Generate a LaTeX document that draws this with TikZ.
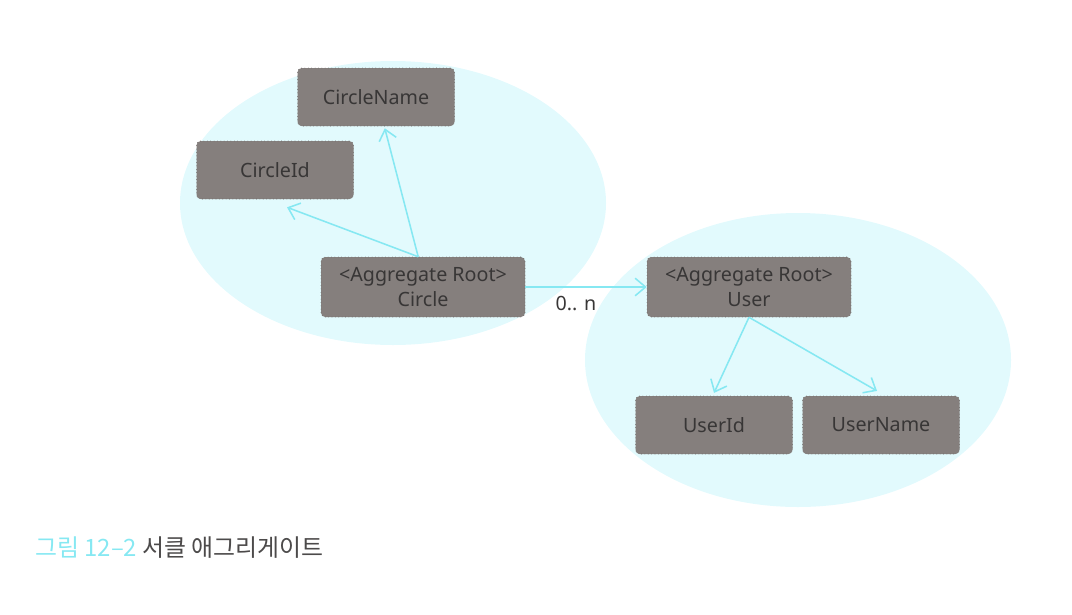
\documentclass[tikz,border=0pt]{standalone}
\usepackage{fontspec}
\setmainfont{Noto Sans}
\newfontfamily\krfont{Noto Sans CJK KR}
\usetikzlibrary{positioning,arrows.meta}
\definecolor{boxgray}{HTML}{857F7D}
\definecolor{boxtext}{HTML}{383636}
\definecolor{linkcyan}{HTML}{86E8F2}
\definecolor{groupcyan}{HTML}{E2FAFD}
\tikzset{>={Straight Barb[length=2.6mm,width=4.4mm]}}
\tikzset{
  valuebox/.style={draw=boxgray!80!black, dotted, fill=boxgray, rounded corners=3pt, minimum width=3.925cm, minimum height=1.45cm, text=boxtext, font=\fontsize{14}{16}\selectfont},
  rootbox/.style={valuebox, minimum width=5.1cm, minimum height=1.5cm, align=center, font=\fontsize{14}{17.5}\selectfont},
  link/.style={->, draw=linkcyan, line width=1.1pt}
}

\begin{document}
\begin{tikzpicture}
      \useasboundingbox (0,0) rectangle (26.8,-15.35);
      % aggregate groups
      \fill[groupcyan] (9.825,-5.075) ellipse (5.325cm and 3.55cm);
      \fill[groupcyan] (19.95,-9.0) ellipse (5.325cm and 3.675cm);
      % circle aggregate
      \node[rootbox] (circ) at (10.575,-7.175) {<Aggregate Root>\\Circle};
      \node[valuebox] (cname) at (9.4,-2.425) {CircleName};
      \node[valuebox] (cid) at (6.875,-4.25) {CircleId};
      % user aggregate
      \node[rootbox, right of=circ, node distance=8.15cm] (user) {<Aggregate Root>\\User};
      \node[valuebox] (uid) at (17.85,-10.625) {UserId};
      \node[valuebox, right of=uid, node distance=4.175cm] (uname) {UserName};
      \draw[link] ([xshift=-0.12cm]circ.north) -- ([xshift=0.22cm,yshift=-0.05cm]cname.south);
      \draw[link] ([xshift=-0.12cm]circ.north) -- ([shift={(0.3,-0.2)}]cid.south);
      \draw[link] (circ.east) -- node[below=3pt, xshift=-0.25cm, text=boxtext, font=\fontsize{14}{16}\selectfont]{0.. n} (user.west);
      \draw[link] (user.south) -- ([yshift=0.07cm]uid.north);
      \draw[link] (user.south) -- ([xshift=-0.1cm,yshift=0.12cm]uname.north);
      % caption
      \node[anchor=west, font=\krfont\fontsize{17}{20}\selectfont, inner sep=0pt] (cap) at (0.875,-13.7) {\textcolor{linkcyan}{그림 12–2} \textcolor{boxtext!90!white}{서클 애그리게이트}};
\end{tikzpicture}
\end{document}
